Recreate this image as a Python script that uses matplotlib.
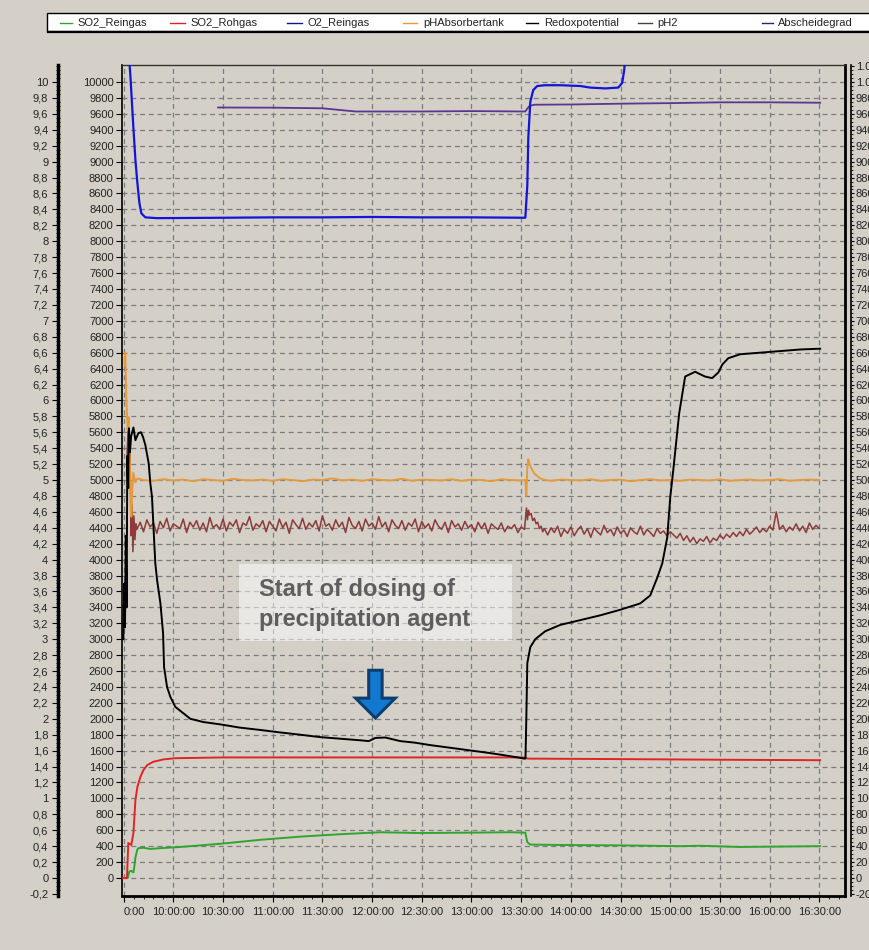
import numpy as np
import matplotlib
matplotlib.use('Agg')
import matplotlib.pyplot as plt
from matplotlib.lines import Line2D
from matplotlib.patches import Rectangle, FancyArrow
from matplotlib.ticker import MultipleLocator

plt.rcParams['font.family'] = ['Liberation Sans', 'DejaVu Sans']

# time axis: minutes after 10:00:00
tick_minutes = [-30, 0, 30, 60, 90, 120, 150, 180, 210, 240, 270, 300, 330, 360, 390]
tick_labels = ['0:00', '10:00:00', '10:30:00', '11:00:00', '11:30:00', '12:00:00',
               '12:30:00', '13:00:00', '13:30:00', '14:00:00', '14:30:00',
               '15:00:00', '15:30:00', '16:00:00', '16:30:00']

legend_names = ['SO2_Reingas', 'SO2_Rohgas', 'O2_Reingas', 'pHAbsorbertank',
                'Redoxpotential', 'pH2', 'Abscheidegrad']
colors = ['#2fa52f', '#e02424', '#1414d8', '#e59a3c', '#000000', '#8c3a3a', '#5c3590']
legend_colors = ['#2fa52f', '#e02424', '#14148a', '#e59a3c', '#000000', '#444433', '#3a2060']

# SO2_Reingas
t_so2_rein = [-31, -27.5, -26.6, -25.4, -24.1, -23.5, -22.9, -21.7, -21.1, -18.1, -13.9, -7.8,
              4.2, 28.4, 52.5, 76.7, 100.8, 125, 149, 179, 203, 212.5, 213.7, 215.5, 233.6,
              269.8, 306, 318, 342, 366, 390.5]
v_so2_rein = [0, 0, 80, 90, 70, 150, 260, 360, 375, 380, 365, 375, 390, 430, 480, 520, 550,
              575, 565, 570, 575, 570, 450, 420, 415, 410, 400, 405, 390, 395, 400]

# SO2_Rohgas
t_so2_roh = [-31, -28, -27.2, -25.4, -24.1, -22.9, -21.7, -19.9, -18.1, -15.7, -12.1, -6, 1.2,
             30, 60, 120, 180, 212.5, 214, 260, 300, 340, 390.5]
v_so2_roh = [0, 0, 440, 415, 565, 980, 1145, 1270, 1355, 1420, 1460, 1490, 1505, 1515, 1515,
             1515, 1515, 1515, 1500, 1495, 1490, 1485, 1480]

# O2_Reingas
t_o2 = [-28.5, -27.5, -26, -24.1, -22.9, -21.7, -20.5, -19.3, -16.9, -10, 30, 60, 90, 120, 150,
        180, 212.5, 213.7, 214.3, 215.5, 217.3, 219.7, 224.5, 233.6, 245.7, 251.7, 260.8,
        268.6, 271, 272.2, 273.4]
v_o2 = [10800, 10500, 10100, 9420, 9020, 8730, 8480, 8350, 8300, 8290, 8295, 8300, 8300, 8305,
        8300, 8300, 8295, 8700, 9300, 9750, 9900, 9950, 9960, 9960, 9950, 9930, 9920, 9930,
        9990, 10150, 10500]

# pHAbsorbertank (pH x 1000)
t_pha_start = [-29.5, -29, -28.4, -27.6, -27, -26.1, -25.4, -24.7, -24.1, -22.9, -21.7]
v_pha_start = [6450, 6600, 6040, 5630, 5790, 5120, 4540, 4910, 5090, 4970, 5020]
v_pha_mid = [5000, 4990, 5010, 4995, 5005, 4985, 5010, 5000, 4990, 5015,
             5000, 4995, 5005, 4990, 5010, 5000, 4985, 5005, 5000, 5020,
             4995, 5005, 4990, 5010, 5000, 4995, 5015, 4990, 5005, 5000,
             4995, 5010, 4990, 5005, 5000, 4985, 5010, 5000, 4995]
t_pha_jump = [212.5, 213.1, 213.7, 214.3, 215, 216.1, 217.9, 219.7, 221.5, 224.5]
v_pha_jump = [5000, 4800, 5150, 5260, 5200, 5150, 5080, 5050, 5020, 5000]
v_pha_end = [4990, 5005, 5000, 4995, 5010, 4990, 5000, 5005, 4985, 5000, 5010, 4995, 5000, 4990,
             5005, 5000, 4995, 5010, 4990, 5000, 5005, 4995, 5000, 5010, 4990, 5000, 5005, 5000]

# Redoxpotential
t_redox = [-31, -30.2, -29.6, -29.2, -28.7, -28.2, -27.8, -27.3, -26.8, -26.2, -25.5, -24.1,
           -22.9, -21.1, -19.5, -18.3, -16.9, -14.9, -13.9, -12.9, -11.9, -10.9, -9.8, -7.8,
           -6.2, -5.6, -3.8, -1.8, 1.2, 4.2, 10.3, 18, 28.4, 40, 52.5, 64, 76.7, 88.7, 100.8,
           112.9, 118, 122, 128, 133, 137, 146, 155, 164, 173, 182, 191, 199, 206.4, 211.9,
           212.6, 213.1, 213.7, 215.5, 218.5, 224.5, 233.6, 245.7, 257.7, 269.8, 281.9, 287.9,
           292.1, 295.2, 298.2, 300, 301.8, 305.4, 309, 315, 321, 325.3, 329, 331.4, 335,
           342.2, 354.3, 366.4, 378.5, 390.5]
v_redox = [3050, 3000, 3700, 3150, 4300, 3400, 5300, 4900, 5650, 5350, 5550, 5660, 5500, 5590,
           5600, 5540, 5440, 5210, 4960, 4790, 4370, 3955, 3740, 3450, 3075, 2650, 2400, 2275,
           2150, 2100, 2000, 1960, 1930, 1890, 1860, 1830, 1800, 1770, 1750, 1730, 1720, 1760,
           1765, 1740, 1720, 1700, 1670, 1645, 1620, 1595, 1570, 1545, 1520, 1500, 1500, 2000,
           2700, 2900, 3000, 3100, 3180, 3240, 3300, 3370, 3450, 3550, 3770, 3955, 4280, 4785,
           5120, 5840, 6300, 6360, 6300, 6280, 6350, 6450, 6530, 6580, 6600, 6620, 6640, 6650]

# pH2 (pH x 1000)
t_ph2_start = [-28, -27.3, -26.8, -26.2, -25.6, -25.0, -24.4, -23.8, -23.2, -22.6]
v_ph2_start = [5300, 5650, 4900, 5500, 4300, 4700, 4100, 4550, 4250, 4450]
v_ph2_mid = [4380, 4470, 4350, 4500, 4410, 4460, 4330, 4480, 4400, 4520,
             4360, 4450, 4420, 4390, 4510, 4340, 4470, 4410, 4490, 4370,
             4460, 4350, 4530, 4400, 4440, 4380, 4510, 4360, 4470, 4420,
             4500, 4340, 4460, 4430, 4540, 4370, 4450, 4410, 4490, 4350,
             4480, 4420, 4360, 4510, 4400, 4470, 4330, 4500, 4440, 4390,
             4520, 4380, 4460, 4410, 4490, 4360, 4550, 4420, 4450, 4370,
             4500, 4410, 4470, 4340, 4530, 4430, 4390, 4480, 4360, 4510,
             4420, 4460, 4380, 4540, 4410, 4470, 4350, 4500, 4430, 4390,
             4490, 4370, 4460, 4420, 4510, 4350, 4480, 4400, 4450, 4360,
             4500, 4420, 4380, 4470, 4340, 4490, 4410, 4450, 4370, 4480,
             4400, 4440, 4350, 4470, 4390, 4460, 4330, 4450, 4410, 4380,
             4460, 4350, 4420, 4390, 4440, 4340, 4410, 4380]
t_ph2_jump = [213.2, 213.8, 214.4, 215, 216, 217, 218, 219, 220, 221, 222, 223, 224]
v_ph2_jump = [4650, 4500, 4620, 4560, 4580, 4490, 4520, 4450, 4470, 4390, 4420, 4350, 4390]
v_ph2_after = [4310, 4400, 4340, 4420, 4290, 4380, 4330, 4410, 4300, 4370,
               4420, 4320, 4390, 4280, 4400, 4350, 4310, 4430, 4340, 4380,
               4300, 4410, 4330, 4370, 4290, 4400, 4350, 4320, 4420, 4310,
               4380, 4340, 4290, 4390, 4330, 4360, 4300, 4350]
v_ph2_end = [4310, 4270, 4330, 4240, 4300, 4220, 4280, 4200, 4260, 4230,
             4290, 4210, 4270, 4240, 4310, 4260, 4320, 4280, 4340, 4290,
             4350, 4300, 4380, 4320, 4360, 4410, 4340, 4390, 4350, 4420,
             4370, 4600, 4380, 4430, 4350, 4410, 4370, 4450, 4360, 4420,
             4340, 4460, 4380, 4430, 4390]

# Abscheidegrad
t_absch = [27, 60, 90, 100, 110, 150, 180, 212.5, 213.5, 215, 218, 240, 270, 300, 330, 360, 390.5]
v_absch = [9680, 9678, 9670, 9650, 9630, 9630, 9635, 9630, 9660, 9700, 9715, 9718, 9728,
           9735, 9745, 9745, 9740]

t_pha = np.concatenate([t_pha_start, np.arange(-18, 211, 6), t_pha_jump, np.arange(228, 391, 6)])
v_pha = np.concatenate([v_pha_start, v_pha_mid, v_pha_jump, v_pha_end])
t_ph2 = np.concatenate([t_ph2_start, np.arange(-22, 213, 2), t_ph2_jump,
                        np.arange(226, 301, 2), np.arange(302, 391, 2)])
v_ph2 = np.concatenate([v_ph2_start, v_ph2_mid, v_ph2_jump, v_ph2_after, v_ph2_end])

W, H = 870, 950
fig = plt.figure(figsize=(8.7, 9.5), dpi=100, facecolor='#d4d0c8')
ax = fig.add_axes([122 / W, 1 - 896 / H, (845 - 122) / W, (896 - 65) / H])
ax.set_facecolor('#d4d0c8')

ylo, yhi = -226, 10214
ax.set_xlim(-31, 405.5)
ax.set_ylim(ylo, yhi)

ax.plot(t_ph2, v_ph2, color=colors[5], lw=1.1, zorder=3)
ax.plot(t_pha, v_pha, color=colors[3], lw=1.4, zorder=3)
ax.plot(t_absch, v_absch, color=colors[6], lw=1.3, zorder=3)
ax.plot(t_o2, v_o2, color=colors[2], lw=1.6, zorder=4)
ax.plot(t_so2_rein, v_so2_rein, color=colors[0], lw=1.4, zorder=4)
ax.plot(t_so2_roh, v_so2_roh, color=colors[1], lw=1.4, zorder=4)
ax.plot(t_redox, v_redox, color=colors[4], lw=1.4, zorder=5)

# grid and main axis
ax.set_xticks(tick_minutes)
ax.set_xticklabels(tick_labels, fontsize=8, color='#222222')
ax.get_xticklabels()[0].set_ha('left')
ax.xaxis.set_minor_locator(MultipleLocator(6))
ax.tick_params(axis='x', which='major', length=4, pad=4)
ax.tick_params(axis='x', which='minor', length=2)
main_ticks = np.arange(0, 10001, 200)
ax.set_yticks(main_ticks)
ax.set_yticklabels([str(v) for v in main_ticks], fontsize=8, color='#222222')
ax.tick_params(axis='y', length=4, pad=2)
ax.grid(True, which='major', ls=(0, (4, 3)), color='#7c7c7c', lw=0.9)
ax.spines['left'].set_linewidth(1.2)
ax.spines['top'].set_linewidth(1.0)
ax.spines['top'].set_color('#333333')
ax.spines['right'].set_linewidth(2)
ax.spines['bottom'].set_linewidth(2)

# pH axis on far left
ax_ph = ax.twinx()
ax_ph.set_ylim(ylo, yhi)
ax_ph.yaxis.set_ticks_position('left')
ax_ph.yaxis.set_label_position('left')
for s in ['top', 'right', 'bottom']:
    ax_ph.spines[s].set_visible(False)
ax_ph.spines['left'].set_position(('axes', (58 - 122) / (845 - 122)))
ax_ph.spines['left'].set_linewidth(2.5)
ph_ticks = np.arange(-200, 10001, 200)
ax_ph.set_yticks(ph_ticks)
ax_ph.set_yticklabels([('%g' % (v / 1000)).replace('.', ',') for v in ph_ticks],
                      fontsize=8, color='#222222')
ax_ph.yaxis.set_minor_locator(MultipleLocator(50))
ax_ph.tick_params(axis='y', which='major', length=4, pad=3)
ax_ph.tick_params(axis='y', which='minor', length=3, direction='inout')

# right axis (labels run off the right edge, as in the original screenshot)
ax_r = ax.twinx()
ax_r.set_ylim(ylo, yhi)
for s in ['top', 'left', 'bottom']:
    ax_r.spines[s].set_visible(False)
ax_r.spines['right'].set_position(('axes', (851 - 122) / (845 - 122)))
ax_r.spines['right'].set_linewidth(1.2)
r_ticks = np.arange(-200, 10201, 200)
ax_r.set_yticks(r_ticks)
ax_r.set_yticklabels(['{:,}'.format(int(v / 10)).replace(',', '.') for v in r_ticks],
                     fontsize=8, color='#222222')
ax_r.yaxis.set_minor_locator(MultipleLocator(50))
ax_r.tick_params(axis='y', which='major', length=2.5, pad=1)
ax_r.tick_params(axis='y', which='minor', length=1.5)

# annotation
fig.patches.append(Rectangle((239 / W, 1 - 641 / H), (512 - 239) / W, 77 / H,
                             transform=fig.transFigure, facecolor='white', alpha=0.5,
                             edgecolor='none', zorder=6))
fig.text(259 / W, 1 - 596 / H, 'Start of dosing of', fontsize=17, fontweight='bold',
         color='#5e5e5e', va='baseline', zorder=7)
fig.text(259 / W, 1 - 626 / H, 'precipitation agent', fontsize=17, fontweight='bold',
         color='#5e5e5e', va='baseline', zorder=7)
ax.add_patch(FancyArrow(122, 2610, 0, -600, width=8.1, head_width=24, head_length=250,
                        length_includes_head=True, facecolor='#1278d0', edgecolor='#0c3e70',
                        lw=2.2, zorder=8))

# legend bar
fig.patches.append(Rectangle((47 / W, 1 - 31 / H), (880 - 47) / W, 18 / H,
                             transform=fig.transFigure, facecolor='white',
                             edgecolor='black', lw=1.0))
fig.lines.append(Line2D([48 / W, 1.0], [1 - 32 / H, 1 - 32 / H], transform=fig.transFigure,
                        color='black', lw=1.6))
line_x = [(60, 72), (170, 185), (287, 302), (403, 417), (526, 538), (638, 652), (762, 773)]
text_x = [77, 190, 308, 423, 544, 657, 778]
for name, c, (x0, x1), tx in zip(legend_names, legend_colors, line_x, text_x):
    fig.lines.append(Line2D([x0 / W, x1 / W], [1 - 23 / H, 1 - 23 / H],
                            transform=fig.transFigure, color=c, lw=1.0))
    fig.text(tx / W, 1 - 23 / H, name, fontsize=8, color='#222222', va='center')

fig.savefig('out.png', dpi=100, facecolor=fig.get_facecolor())
